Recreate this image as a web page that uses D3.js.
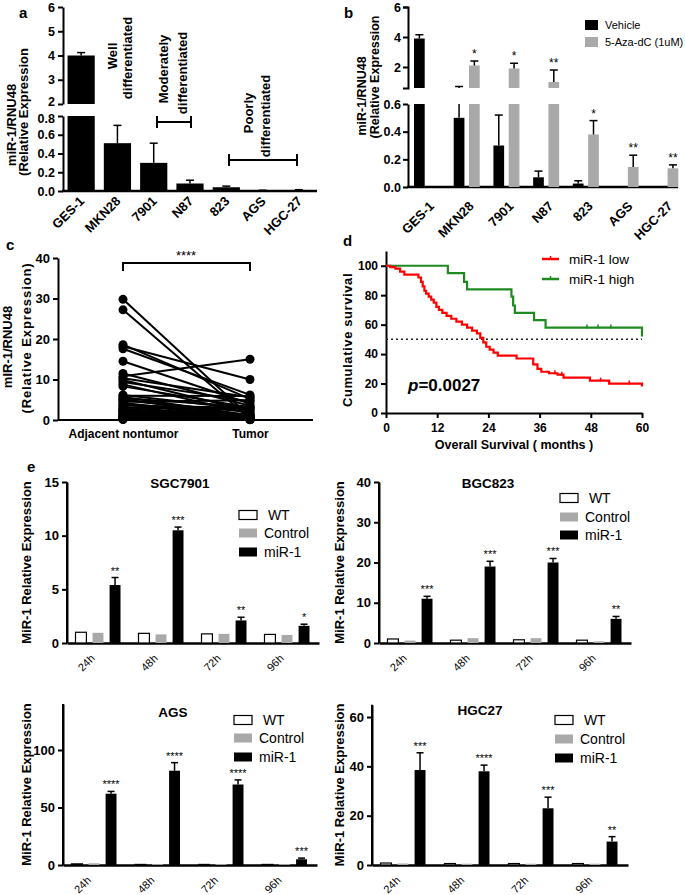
<!DOCTYPE html>
<html><head><meta charset="utf-8">
<script src="https://cdn.jsdelivr.net/npm/d3@7"></script>
<style>
body{margin:0;background:#fff;}
svg{font-family:Arial,"Liberation Sans",sans-serif;}
</style></head><body>
<svg id="fig" width="685" height="895"></svg>
<script>
// ---- data ----
const cellLines = ['GES-1','MKN28','7901','N87','823','AGS','HGC-27'];
const aMean = [4.0, 0.51, 0.30, 0.08, 0.04, 0.005, 0.01];
const aErr  = [0.12, 0.19, 0.21, 0.035, 0.012, 0.003, 0.004];

const bVehicle    = [3.9, 0.5, 0.3, 0.07, 0.025, 0.003, 0.003];
const bVehicleErr = [0.25, 0.2, 0.22, 0.045, 0.02, 0, 0];
const bAza        = [0, 2.1, 1.9, 1.0, 0.38, 0.145, 0.135];
const bAzaErr     = [0, 0.3, 0.35, 0.8, 0.1, 0.085, 0.025];
const bStars      = ['', '*', '*', '**', '*', '**', '**'];

const cGroups = ['Adjacent nontumor', 'Tumor'];
const cAdjacent = [29.8,27.2,18.6,18.2,17.6,14.5,11.5,10.8,10.3,9.9,9.4,8.8,8.3,6.2,6.0,5.7,5.4,5.1,4.8,4.5,4.2,3.9,3.6,3.3,3.0,2.8,2.6,2.4,2.2,2.0,1.8,1.6,1.4,1.2,1.0,0.9,0.8,0.7,0.6,0.5,0.4,0.3,0.2,0.1];
const cTumor    = [0.8,0.3,5.2,10.0,6.2,4.0,3.5,15.0,5.6,2.2,4.6,1.6,3.1,2.6,5.9,1.2,3.3,0.9,2.0,4.9,1.0,0.6,3.0,0.5,2.8,0.4,1.4,0.3,0.9,0.6,1.1,0.7,0.3,0.6,0.2,0.4,0.5,0.1,0.3,0.2,0.15,0.1,0.05,0.1];

const lowMonths = [0,1,2.2,3.3,4.3,7.6,8.2,8.6,9.0,9.4,10.0,10.6,11.2,11.8,12.4,13.2,14.2,15.3,16.5,17.8,19.0,20.2,21.3,22.1,22.8,23.5,24.3,25.2,26.2,30.6,34.5,35.5,36.4,38.2,40.2,41.6,47.8,52.3,60];
const lowSurv   = [100,99,98,96,94,92,89,86,83,81,79,77,75,72,70,68,66,64,62,60,58,56,54,51,48,45,43,41,39,37,33,30,28,27,26,24,22,20,18];
const lowCensor = [39.6, 41.2, 50.3, 57];
const highMonths = [0,14.5,18.3,19.0,29.4,29.8,30.2,34.7,37.4,60];
const highSurv   = [100,95,89,84,79,73,68,63,58,52];
const highCensor = [47.1, 49.7, 52.7];

const timePoints = ['24h','48h','72h','96h'];
const eSeries = ['WT','Control','miR-1'];
const sgcWT = [1.0,0.9,0.85,0.8],   sgcCtrl = [0.95,0.8,0.85,0.75], sgcMiR = [5.4,10.5,2.1,1.6];
const sgcMiRErr = [0.7,0.3,0.3,0.15], sgcStars = ['**','***','**','*'];
const bgcWT = [1.0,0.7,0.8,0.7],    bgcCtrl = [0.6,1.2,1.2,0.4],    bgcMiR = [11,19,20,6];
const bgcMiRErr = [0.6,1.3,1.0,0.6], bgcStars = ['***','***','***','**'];
const agsWT = [1.0,0.5,0.5,0.5],    agsCtrl = [1.5,0.8,0.8,0.8],    agsMiR = [62,82,70,5];
const agsMiRErr = [2,7,4,1], agsStars = ['****','****','****','***'];
const hgcWT = [0.8,0.6,0.6,0.6],    hgcCtrl = [0.6,0.5,0.5,0.5],    hgcMiR = [38.5,38,23,9.5];
const hgcMiRErr = [7,2.5,4.5,2], hgcStars = ['***','****','***','**'];

const GRAY = '#a9a9a9';
const svg = d3.select('#fig');

function styleAxis(g, fs) {
  g.select('.domain').attr('stroke', '#000').attr('stroke-width', 2);
  g.selectAll('.tick line').attr('stroke', '#000').attr('stroke-width', 2);
  g.selectAll('.tick text').attr('fill', '#000').attr('font-weight', 'bold').attr('font-size', fs);
}
function label(x, y, t, fs, opts) {
  opts = opts || {};
  const el = svg.append('text').attr('x', x).attr('y', y).text(t)
    .attr('font-size', fs).attr('font-weight', opts.weight || 'bold')
    .attr('text-anchor', opts.anchor || 'start').attr('fill', opts.fill || '#000');
  if (opts.ls) el.attr('letter-spacing', opts.ls);
  return el;
}
function vlabel(x, y, t, fs, ls) {
  const el = svg.append('text').attr('transform', `translate(${x},${y}) rotate(-90)`)
    .attr('text-anchor', 'middle').attr('font-size', fs).attr('font-weight', 'bold').attr('fill', '#000').text(t);
  if (ls) el.attr('letter-spacing', ls);
  return el;
}
function errBar(g, x, y1, y2, cap, w) {
  g.append('line').attr('x1', x).attr('x2', x).attr('y1', y1).attr('y2', y2).attr('stroke', '#000').attr('stroke-width', w || 1.5);
  if (cap) g.append('line').attr('x1', x - cap).attr('x2', x + cap).attr('y1', y2).attr('y2', y2).attr('stroke', '#000').attr('stroke-width', w || 1.5);
}
// bars on a broken y axis: segs = list of scales, each with own domain
function segBar(g, segs, x0, w, v, e, fill) {
  segs.forEach(s => {
    const [lo, hi] = s.domain();
    if (v > lo) g.append('rect').attr('x', x0).attr('width', w)
      .attr('y', s(Math.min(v, hi))).attr('height', s(lo) - s(Math.min(v, hi))).attr('fill', fill);
    const top = v + e;
    if (e > 0 && top > lo && v < hi) {
      errBar(g, x0 + w / 2, s(Math.max(v, lo)), s(Math.min(top, hi)), top <= hi ? 4 : 0);
    }
  });
}
function topY(segs, v) {
  for (const s of segs) { const [lo, hi] = s.domain(); if (v >= lo && v <= hi) return s(v); }
  return segs[0](segs[0].domain()[1]);
}

// ================= panel a =================
(function () {
  const g = svg.append('g');
  const yUp = d3.scaleLinear().domain([2, 6]).range([104, 7]);
  const yLo = d3.scaleLinear().domain([0, 0.8]).range([191, 116]);
  const x = d3.scaleBand().domain(cellLines).range([63, 317]).paddingInner(0.25).paddingOuter(0.125);
  const up = g.append('g').attr('transform', 'translate(63,0)')
    .call(d3.axisLeft(yUp).tickValues([2,3,4,5,6]).tickFormat(d3.format('d')).tickSize(5).tickSizeOuter(0)).call(a => styleAxis(a, 12.5));
  up.selectAll('.tick text').filter(d => d === 2).attr('dy', '0.1em');
  const lo = g.append('g').attr('transform', 'translate(63,0)')
    .call(d3.axisLeft(yLo).tickValues([0,0.2,0.4,0.6,0.8]).tickFormat(d3.format('.1f')).tickSize(5).tickSizeOuter(0)).call(a => styleAxis(a, 12.5));
  lo.selectAll('.tick text').filter(d => d === 0.8).attr('dy', '0.5em');
  const xa = g.append('g').attr('transform', 'translate(0,191)')
    .call(d3.axisBottom(x).tickSize(0).tickSizeOuter(0));
  xa.select('.domain').attr('stroke', '#000').attr('stroke-width', 2.5).attr('d', 'M62,0H317');
  xa.selectAll('.tick text').attr('x', 0).attr('y', 0).attr('dy', 0)
    .attr('transform', 'translate(4,11) rotate(-45)').attr('text-anchor', 'end')
    .attr('font-weight', 'bold').attr('font-size', 13).attr('fill', '#000');
  cellLines.forEach((c, i) => segBar(g, [yLo, yUp], x(c), x.bandwidth(), aMean[i], aErr[i], '#000'));
  // group annotations
  vlabel(117, 56, 'Well', 13); vlabel(132, 58, 'differentiated', 13);
  vlabel(168, 69, 'Moderately', 13); vlabel(187, 73, 'differentiated', 13);
  vlabel(253, 113, 'Poorly', 13); vlabel(270, 116, 'differentiated', 13);
  [[157, 191, 122], [229, 297, 160]].forEach(([x1, x2, y]) => {
    g.append('path').attr('d', `M${x1},${y - 6}V${y + 6}M${x1},${y}H${x2}M${x2},${y - 6}V${y + 6}`)
      .attr('stroke', '#000').attr('stroke-width', 2).attr('fill', 'none');
  });
  vlabel(16, 125, 'miR-1/RNU48', 13);
  vlabel(28, 112, '(Relative Expression', 13);
  label(19, 18, 'a', 15);
})();

// ================= panel b =================
(function () {
  const g = svg.append('g');
  const yUp = d3.scaleLinear().domain([0.6, 6]).range([88, 7]);
  const yLo = d3.scaleLinear().domain([0, 0.6]).range([187, 104]);
  const x = d3.scaleBand().domain(cellLines).range([407, 685]);
  const sub = d3.scaleBand().domain(['veh', 'aza']).range([7, 33]).paddingInner(0.3);
  g.append('g').attr('transform', 'translate(408,0)')
    .call(d3.axisLeft(yUp).tickValues([2,4,6]).tickFormat(d3.format('d')).tickSize(5).tickSizeOuter(5).tickPadding(2)).call(a => styleAxis(a, 12.5));
  g.append('g').attr('transform', 'translate(408,0)')
    .call(d3.axisLeft(yLo).tickValues([0,0.2,0.4,0.6]).tickFormat(d3.format('.1f')).tickSize(5).tickSizeOuter(0).tickPadding(2)).call(a => styleAxis(a, 12.5));
  const xa = g.append('g').attr('transform', 'translate(0,187)')
    .call(d3.axisBottom(x).tickSize(0).tickSizeOuter(0));
  xa.select('.domain').attr('stroke', '#000').attr('stroke-width', 2.5).attr('d', 'M407,0H678');
  xa.selectAll('.tick text').attr('x', 0).attr('y', 0).attr('dy', 0)
    .attr('transform', 'translate(8,20) rotate(-45)').attr('text-anchor', 'end')
    .attr('font-weight', 'bold').attr('font-size', 13).attr('fill', '#000');
  const segs = [yLo, yUp];
  cellLines.forEach((c, i) => {
    segBar(g, segs, x(c) + sub('veh'), sub.bandwidth(), bVehicle[i], bVehicleErr[i], '#000');
    segBar(g, segs, x(c) + sub('aza'), sub.bandwidth(), bAza[i], bAzaErr[i], GRAY);
    if (bStars[i]) label(x(c) + sub('aza') + sub.bandwidth() / 2, topY(segs, bAza[i] + bAzaErr[i]) - 3, bStars[i], 12, { anchor: 'middle', weight: 'normal' });
  });
  g.append('rect').attr('x', 585).attr('y', 20).attr('width', 13).attr('height', 10).attr('fill', '#000');
  g.append('rect').attr('x', 585).attr('y', 37).attr('width', 13).attr('height', 10).attr('fill', GRAY);
  label(605, 29, 'Vehicle', 11, { weight: 'normal' });
  label(605, 46, '5-Aza-dC (1uM)', 11, { weight: 'normal' });
  vlabel(366, 96, 'miR-1/RNU48', 12.5);
  vlabel(379, 77, '(Relative Expression', 12.5);
  label(344, 18, 'b', 15);
})();

// ================= panel c =================
(function () {
  const g = svg.append('g');
  const y = d3.scaleLinear().domain([0, 40]).range([420, 258]);
  const x = d3.scalePoint().domain(cGroups).range([123, 250]);
  g.append('g').attr('transform', 'translate(58,0)')
    .call(d3.axisLeft(y).tickValues([0,10,20,30,40]).tickSize(5).tickSizeOuter(0)).call(a => styleAxis(a, 13));
  const xa = g.append('g').attr('transform', 'translate(0,420)')
    .call(d3.axisBottom(x).tickSize(4).tickSizeOuter(0).tickPadding(5));
  styleAxis(xa, 12);
  xa.select('.domain').attr('d', 'M58,0H313');
  const pairs = cAdjacent.map((v, i) => [v, cTumor[i]]);
  g.selectAll('line.pair').data(pairs).enter().append('line').attr('class', 'pair')
    .attr('x1', x(cGroups[0])).attr('x2', x(cGroups[1]))
    .attr('y1', d => y(d[0])).attr('y2', d => y(d[1])).attr('stroke', '#000').attr('stroke-width', 2);
  pairs.forEach(d => {
    g.append('circle').attr('cx', x(cGroups[0])).attr('cy', y(d[0])).attr('r', 4.5).attr('fill', '#000');
    g.append('circle').attr('cx', x(cGroups[1])).attr('cy', y(d[1])).attr('r', 4.5).attr('fill', '#000');
  });
  g.append('path').attr('d', `M${x(cGroups[0])},271V263H${x(cGroups[1])}V271`)
    .attr('stroke', '#000').attr('stroke-width', 2).attr('fill', 'none');
  label(186, 260, '****', 13, { anchor: 'middle', weight: 'normal' });
  vlabel(12, 347, 'mIR-1/RNU48', 13);
  vlabel(31, 338, '(Relative Expression)', 13, 0.9);
  label(6, 250, 'c', 15);
})();

// ================= panel d =================
(function () {
  const g = svg.append('g');
  const y = d3.scaleLinear().domain([0, 110]).range([413, 251]);
  const x = d3.scaleLinear().domain([0, 60]).range([386, 642]);
  const ya = g.append('g').attr('transform', 'translate(386,0)')
    .call(d3.axisLeft(y).tickValues([0,20,40,60,80,100]).tickSize(5).tickSizeOuter(0));
  styleAxis(ya, 12);
  const xa = g.append('g').attr('transform', 'translate(0,413)')
    .call(d3.axisBottom(x).tickValues([0,12,24,36,48,60]).tickSize(5).tickSizeOuter(0).tickPadding(5));
  styleAxis(xa, 12);
  g.append('line').attr('x1', x(0)).attr('x2', x(60)).attr('y1', y(50)).attr('y2', y(50))
    .attr('stroke', '#222').attr('stroke-width', 1.5).attr('stroke-dasharray', '2,3');
  const line = d3.line().x(d => x(d[0])).y(d => y(d[1])).curve(d3.curveStepAfter);
  const low = lowMonths.map((m, i) => [m, lowSurv[i]]);
  const high = highMonths.map((m, i) => [m, highSurv[i]]);
  g.append('path').attr('d', line(high)).attr('stroke', '#1f8a1f').attr('stroke-width', 2.2).attr('fill', 'none');
  g.append('path').attr('d', line(low)).attr('stroke', '#ff0000').attr('stroke-width', 2.2).attr('fill', 'none');
  const survAt = (arr, m) => { let v = arr[0][1]; arr.forEach(p => { if (p[0] <= m) v = p[1]; }); return v; };
  lowCensor.forEach(m => g.append('line').attr('x1', x(m)).attr('x2', x(m)).attr('y1', y(survAt(low, m)) - 3).attr('y2', y(survAt(low, m)) + 1).attr('stroke', '#ff0000').attr('stroke-width', 1.5));
  highCensor.forEach(m => g.append('line').attr('x1', x(m)).attr('x2', x(m)).attr('y1', y(survAt(high, m)) - 3).attr('y2', y(survAt(high, m)) + 1).attr('stroke', '#1f8a1f').attr('stroke-width', 1.5));
  [['miR-1 low', '#ff0000', 259], ['miR-1 high', '#1f8a1f', 279]].forEach(([t, c, yy]) => {
    g.append('line').attr('x1', 542).attr('x2', 559).attr('y1', yy).attr('y2', yy).attr('stroke', c).attr('stroke-width', 2.5);
    g.append('line').attr('x1', 550.5).attr('x2', 550.5).attr('y1', yy - 3).attr('y2', yy).attr('stroke', c).attr('stroke-width', 1.5);
    label(569, yy + 5, t, 13.5, { weight: 'normal' });
  });
  const pt = label(408, 391, '', 17);
  pt.append('tspan').attr('font-style', 'italic').text('p');
  pt.append('tspan').text('=0.0027');
  label(514, 449, 'Overall Survival ( months )', 12.5, { anchor: 'middle' });
  vlabel(352, 340, 'Cumulative survival', 13, 0.6);
  label(343, 246, 'd', 15);
})();

// ================= panel e =================
function groupedPanel(o) {
  const g = svg.append('g');
  const y = d3.scaleLinear().domain(o.domain).range([o.y0, o.yTop]);
  const x = d3.scaleBand().domain(timePoints).range([o.x0, o.x1]);
  const sub = d3.scaleBand().domain(eSeries).range([8.5, 53.5]).paddingInner(0.36);
  g.append('g').attr('transform', `translate(${o.x0},0)`)
    .call(d3.axisLeft(y).tickValues(o.ticks).tickSize(5).tickSizeOuter(0)).call(a => styleAxis(a, 13));
  g.append('line').attr('x1', o.x0).attr('x2', o.x0).attr('y1', o.y0).attr('y2', y(o.domain[1])).attr('stroke', '#000').attr('stroke-width', 2);
  const xa = g.append('g').attr('transform', `translate(0,${o.y0})`)
    .call(d3.axisBottom(x).tickSize(0).tickSizeOuter(0));
  xa.select('.domain').attr('stroke', '#000').attr('stroke-width', 2.5);
  xa.selectAll('.tick text').attr('x', 0).attr('y', 0).attr('dy', 0)
    .attr('transform', `translate(-3,${o.lab}) rotate(-45)`).attr('text-anchor', 'end')
    .attr('font-size', 11).attr('fill', '#000');
  const series = [o.wt, o.ctrl, o.mir];
  const fills = ['#fff', GRAY, '#000'];
  timePoints.forEach((t, i) => {
    series.forEach((s, k) => {
      const bx = x(t) + sub(eSeries[k]), w = sub.bandwidth();
      g.append('rect').attr('x', bx).attr('width', w).attr('y', y(s[i])).attr('height', o.y0 - y(s[i]))
        .attr('fill', fills[k]).attr('stroke', k === 0 ? '#000' : 'none').attr('stroke-width', 1.2);
    });
    const bx = x(t) + sub('miR-1') + sub.bandwidth() / 2;
    errBar(g, bx, y(o.mir[i]), y(o.mir[i] + o.err[i]), 3.5, 1.5);
    label(bx, y(o.mir[i] + o.err[i]) - 3, o.stars[i], 11, { anchor: 'middle', weight: 'normal' });
  });
  label(o.tx, o.ty, o.title, 13.5, { anchor: 'middle' });
  const legText = [' WT', 'Control', 'miR-1'];
  o.leg.rows.forEach((ry, k) => {
    g.append('rect').attr('x', o.leg.x).attr('y', ry - 4.5).attr('width', 18).attr('height', 9)
      .attr('fill', fills[k]).attr('stroke', k === 0 ? '#000' : 'none').attr('stroke-width', 1.2);
    g.append('text').attr('x', o.leg.x + 25).attr('y', ry + 5).attr('font-size', 14).attr('fill', '#000')
      .style('white-space', 'pre').text(legText[k]);
  });
  vlabel(o.lx, (o.y0 + y(o.domain[1])) / 2, 'MiR-1 Relative Expression', 13);
}
groupedPanel({ domain: [0, 15], ticks: [0,5,10,15], y0: 643, yTop: 482, x0: 67, x1: 319, lab: 16,
  wt: sgcWT, ctrl: sgcCtrl, mir: sgcMiR, err: sgcMiRErr, stars: sgcStars,
  title: 'SGC7901', tx: 180, ty: 488, leg: { x: 239, rows: [515, 533, 552] }, lx: 31 });
groupedPanel({ domain: [0, 40], ticks: [0,10,20,30,40], y0: 643, yTop: 482, x0: 379, x1: 631, lab: 16,
  wt: bgcWT, ctrl: bgcCtrl, mir: bgcMiR, err: bgcMiRErr, stars: bgcStars,
  title: 'BGC823', tx: 488, ty: 488, leg: { x: 560, rows: [498, 517, 535] }, lx: 344 });
groupedPanel({ domain: [0, 140], ticks: [0,50,100], y0: 865, yTop: 704, x0: 63, x1: 317, lab: 16,
  wt: agsWT, ctrl: agsCtrl, mir: agsMiR, err: agsMiRErr, stars: agsStars,
  title: 'AGS', tx: 173, ty: 717, leg: { x: 234, rows: [720, 738, 757] }, lx: 31 });
groupedPanel({ domain: [0, 65], ticks: [0,20,40,60], y0: 865, yTop: 704.7, x0: 372, x1: 628, lab: 16,
  wt: hgcWT, ctrl: hgcCtrl, mir: hgcMiR, err: hgcMiRErr, stars: hgcStars,
  title: 'HGC27', tx: 480, ty: 715, leg: { x: 555, rows: [720, 739, 758] }, lx: 344 });
label(27, 472, 'e', 15);
</script>
</body></html>
